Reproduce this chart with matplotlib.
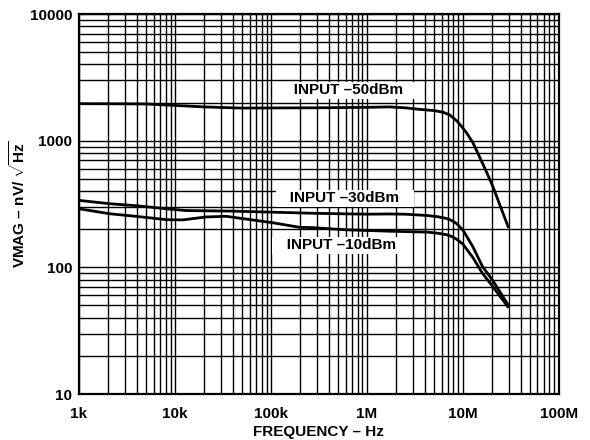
import numpy as np
import matplotlib
matplotlib.use("Agg")
import matplotlib.pyplot as plt
from matplotlib.ticker import FixedLocator, LogLocator, NullFormatter

plt.rcParams['font.family'] = ['Liberation Sans', 'DejaVu Sans']
plt.rcParams['font.weight'] = 'bold'
plt.rcParams['mathtext.fontset'] = 'custom'
plt.rcParams['mathtext.rm'] = 'Liberation Sans:bold'
plt.rcParams['mathtext.bf'] = 'Liberation Sans:bold'

# curve data (Hz, nV/rtHz)
freq_50 = [1e3, 3e3, 5e3, 1e4, 2e4, 5e4, 1e5, 3e5, 1e6, 1.7e6, 2.5e6, 3.5e6, 5e6,
           6.2e6, 7.3e6, 7.9e6, 8.6e6, 9.3e6, 1.09e7, 1.27e7, 1.49e7, 1.77e7,
           2.07e7, 2.4e7, 3e7]
vmag_50 = [1960, 1955, 1950, 1900, 1850, 1810, 1815, 1820, 1835, 1850, 1820, 1770, 1730,
           1680, 1600, 1520, 1440, 1350, 1160, 970, 750, 565, 430, 320, 205]

freq_30 = [1e3, 2.1e3, 3.9e3, 8.2e3, 1.3e4, 4e4, 1.2e5, 3e5, 1e6, 1.7e6, 2.5e6, 4.2e6,
           5.5e6, 6.8e6, 7.7e6, 8.6e6, 1e7, 1.27e7, 1.6e7, 2.07e7, 3e7]
vmag_30 = [338, 318, 307, 290, 281, 278, 272, 267, 263, 264, 263, 257,
           251, 243, 234, 222, 198, 146, 102, 78, 50]

freq_10 = [1e3, 2.1e3, 3.9e3, 8.2e3, 1.2e4, 2.1e4, 3.4e4, 6.4e4, 1.05e5, 2e5, 2.7e5,
           6.1e5, 1.7e6, 4.2e6, 5.5e6, 6.8e6, 7.7e6, 8.6e6, 1e7, 1.27e7, 1.6e7,
           2.07e7, 3e7]
vmag_10 = [290, 265, 253, 238, 237, 250, 253, 237, 225, 207, 206,
           198, 193, 190, 186, 181, 175, 167, 153, 120, 90, 70, 48]

labels = ["INPUT \u201350dBm", "INPUT \u201330dBm", "INPUT \u201310dBm"]
label_pos = [(6.35e5, 2500), (5.9e5, 352), (5.4e5, 149)]

xticks = [1e3, 1e4, 1e5, 1e6, 1e7, 1e8]
xtick_labels = ["1k", "10k", "100k", "1M", "10M", "100M"]
yticks = [10, 100, 1000, 10000]
ytick_labels = ["10", "100", "1000", "10000"]

fig = plt.figure(figsize=(5.9, 4.4), dpi=100)
ax = fig.add_axes([0.134, 0.1045, 0.813, 0.8635])
ax.set_xscale('log')
ax.set_yscale('log')
ax.set_xlim(1e3, 1e8)
ax.set_ylim(10, 10000)

ax.xaxis.set_major_locator(FixedLocator(xticks))
ax.yaxis.set_major_locator(FixedLocator(yticks))
ax.xaxis.set_minor_locator(LogLocator(base=10, subs=np.arange(2, 10)))
ax.yaxis.set_minor_locator(LogLocator(base=10, subs=np.arange(2, 10)))
ax.xaxis.set_minor_formatter(NullFormatter())
ax.yaxis.set_minor_formatter(NullFormatter())
ax.set_xticklabels(xtick_labels)
ax.set_yticklabels(ytick_labels)
ax.tick_params(which='both', length=0, labelsize=11)
ax.tick_params(axis='x', pad=9)
ax.tick_params(axis='y', pad=5)

ax.grid(True, which='both', color='black', linewidth=1.0)
ax.set_axisbelow(True)
for s in ax.spines.values():
    s.set_linewidth(1.6)

for f, v in [(freq_50, vmag_50), (freq_30, vmag_30), (freq_10, vmag_10)]:
    ax.plot(f, v, color='black', linewidth=2.0, zorder=3,
            solid_joinstyle='round', solid_capstyle='butt')

for txt, (x, y) in zip(labels, label_pos):
    ax.text(x, y, "   " + txt + "   ", ha='center', va='center', fontsize=11,
            fontweight='bold', zorder=4,
            bbox=dict(boxstyle='square,pad=0.1', facecolor='white', edgecolor='none'))

ax.set_xlabel("FREQUENCY \u2013 Hz", fontsize=11, fontweight='bold', labelpad=3)
ax.set_ylabel("VMAG \u2013 nV/ " + r"$\sqrt{\mathbf{Hz}}$",
              fontsize=11, fontweight='bold')
ax.yaxis.set_label_coords(-0.106, 0.5)

fig.savefig("out.png", dpi=100)
